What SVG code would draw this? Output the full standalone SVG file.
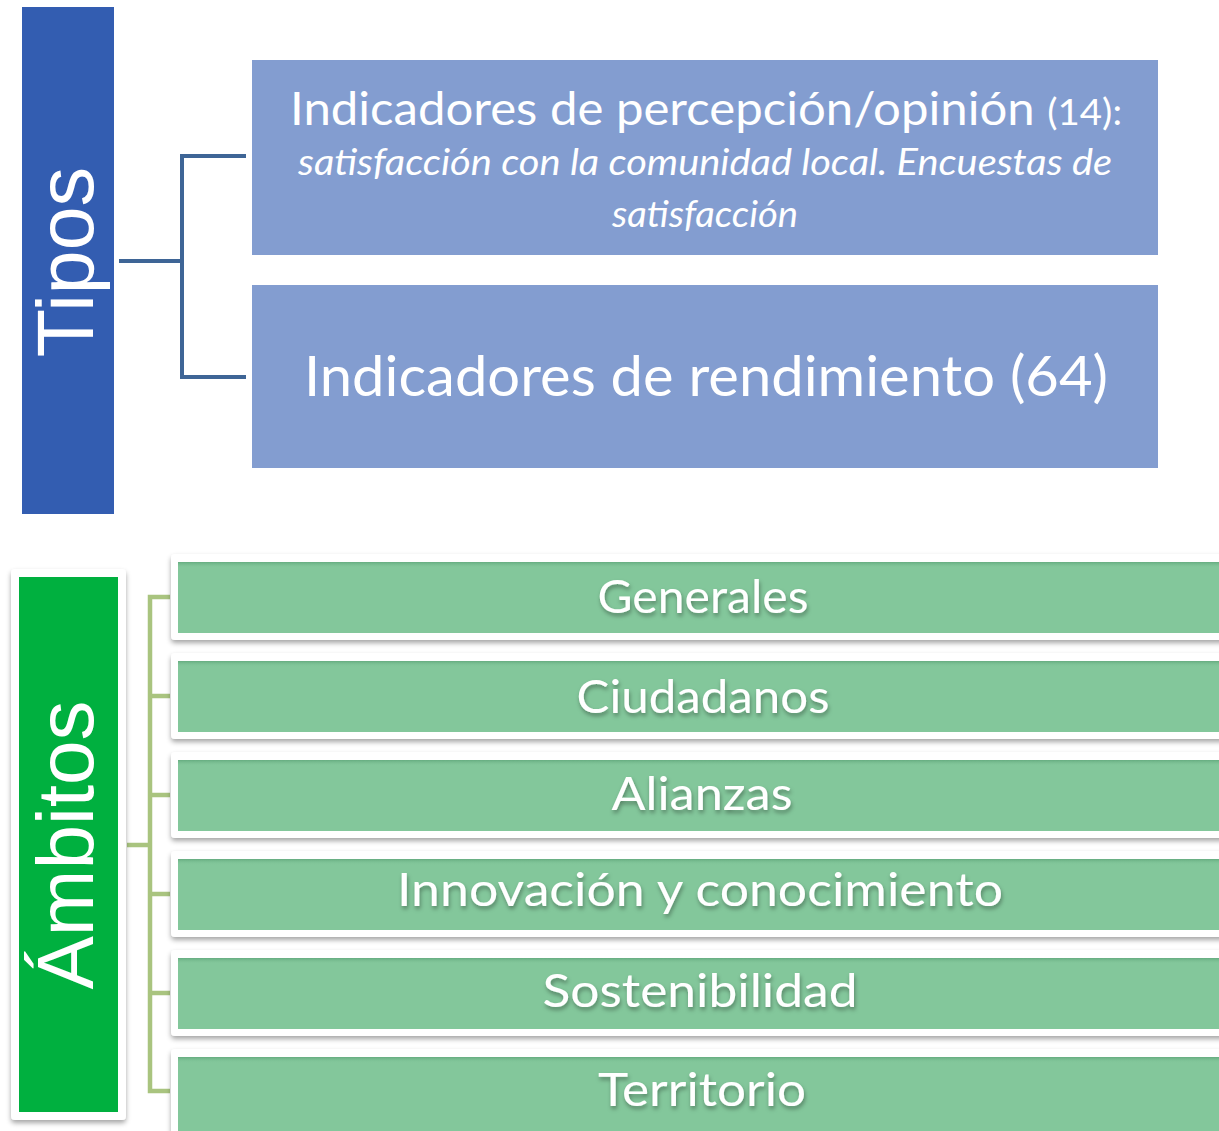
<svg xmlns="http://www.w3.org/2000/svg" width="1219" height="1131" viewBox="0 0 1219 1131">
<defs>
<style>
.blue{fill:#839DD0}
.frame{fill:#ffffff;filter:url(#ds)}
.green{fill:#83C79B}
.gtop{fill:url(#ig)}
.gt{font-family:Lato,"Liberation Sans",sans-serif;font-size:46px;fill:#ffffff;text-anchor:middle;filter:url(#ts)}
.bt{font-family:Lato,"Liberation Sans",sans-serif;fill:#ffffff;text-anchor:middle}
.vt{font-family:"Liberation Sans",Arial,sans-serif;fill:#ffffff;text-anchor:middle}
.cb{fill:none;stroke:#3E6596;stroke-width:4}
.cg{fill:none;stroke:#A9C47F;stroke-width:4.5}
</style>
<filter id="ds" x="-5%" y="-10%" width="110%" height="130%">
<feDropShadow dx="0" dy="3" stdDeviation="2.5" flood-color="#000" flood-opacity="0.35"/>
</filter>
<filter id="ts" x="-10%" y="-30%" width="120%" height="160%">
<feDropShadow dx="1" dy="3" stdDeviation="2" flood-color="#000" flood-opacity="0.35"/>
</filter>
<linearGradient id="ig" x1="0" y1="0" x2="0" y2="1">
<stop offset="0" stop-color="#5EA579" stop-opacity="0.8"/>
<stop offset="1" stop-color="#83C79B" stop-opacity="0"/>
</linearGradient>
</defs>
<rect width="1219" height="1131" fill="#ffffff"/>

<g id="connectors">
<path class="cb" d="M119,261 H182 M246,156 H182 V377 H246"/>
<path class="cg" d="M127,845 H150 M170,597 H150 V1091 H170 M150,696 H170 M150,795 H170 M150,894 H170 M150,993 H170"/>
</g>

<g id="tipos">
<rect x="22" y="7" width="92" height="507" fill="#335DB1"/>
<text class="vt" font-size="79" transform="translate(93,262) rotate(-90)">Tipos</text>
</g>

<g id="percepcion">
<rect class="blue" x="252" y="60" width="906" height="195"/>
<text class="bt" font-size="46" x="706" y="125" textLength="832" lengthAdjust="spacingAndGlyphs">Indicadores de percepción/opinión <tspan font-size="36">(14):</tspan></text>
<text class="bt" font-size="36" font-style="italic" x="705" y="175" textLength="814" lengthAdjust="spacingAndGlyphs">satisfacción con la comunidad local. Encuestas de</text>
<text class="bt" font-size="36" font-style="italic" x="705" y="227" textLength="186" lengthAdjust="spacingAndGlyphs">satisfacción</text>
</g>

<g id="rendimiento">
<rect class="blue" x="252" y="285" width="906" height="183"/>
<text class="bt" font-size="56" x="706" y="396" textLength="804" lengthAdjust="spacingAndGlyphs">Indicadores de rendimiento (64)</text>
</g>

<g id="ambitos">
<rect class="frame" x="11" y="569" width="115" height="551" rx="4"/>
<rect x="19" y="577" width="99" height="535" fill="#00B03F"/>
<text class="vt" font-size="80" transform="translate(93,845) rotate(-90)">Ámbitos</text>
</g>

<g id="generales">
<rect class="frame" x="171" y="554" width="1060" height="86" rx="4"/>
<rect class="green" x="178" y="562" width="1050" height="71"/>
<rect class="gtop" x="178" y="562" width="1050" height="6"/>
<text class="gt" x="703" y="613" textLength="211" lengthAdjust="spacingAndGlyphs">Generales</text>
</g>

<g id="ciudadanos">
<rect class="frame" x="171" y="653" width="1060" height="86" rx="4"/>
<rect class="green" x="178" y="661" width="1050" height="71"/>
<rect class="gtop" x="178" y="661" width="1050" height="6"/>
<text class="gt" x="703" y="713" textLength="253" lengthAdjust="spacingAndGlyphs">Ciudadanos</text>
</g>

<g id="alianzas">
<rect class="frame" x="171" y="752" width="1060" height="86" rx="4"/>
<rect class="green" x="178" y="760" width="1050" height="71"/>
<rect class="gtop" x="178" y="760" width="1050" height="6"/>
<text class="gt" x="702" y="810" textLength="181" lengthAdjust="spacingAndGlyphs">Alianzas</text>
</g>

<g id="innovacion">
<rect class="frame" x="171" y="851" width="1060" height="86" rx="4"/>
<rect class="green" x="178" y="859" width="1050" height="71"/>
<rect class="gtop" x="178" y="859" width="1050" height="6"/>
<text class="gt" x="700" y="906" textLength="606" lengthAdjust="spacingAndGlyphs">Innovación y conocimiento</text>
</g>

<g id="sostenibilidad">
<rect class="frame" x="171" y="950" width="1060" height="86" rx="4"/>
<rect class="green" x="178" y="958" width="1050" height="71"/>
<rect class="gtop" x="178" y="958" width="1050" height="6"/>
<text class="gt" x="700" y="1007" textLength="315" lengthAdjust="spacingAndGlyphs">Sostenibilidad</text>
</g>

<g id="territorio">
<rect class="frame" x="171" y="1049" width="1060" height="90" rx="4"/>
<rect class="green" x="178" y="1057" width="1050" height="80"/>
<rect class="gtop" x="178" y="1057" width="1050" height="6"/>
<text class="gt" x="702" y="1106" textLength="208" lengthAdjust="spacingAndGlyphs">Territorio</text>
</g>
</svg>
